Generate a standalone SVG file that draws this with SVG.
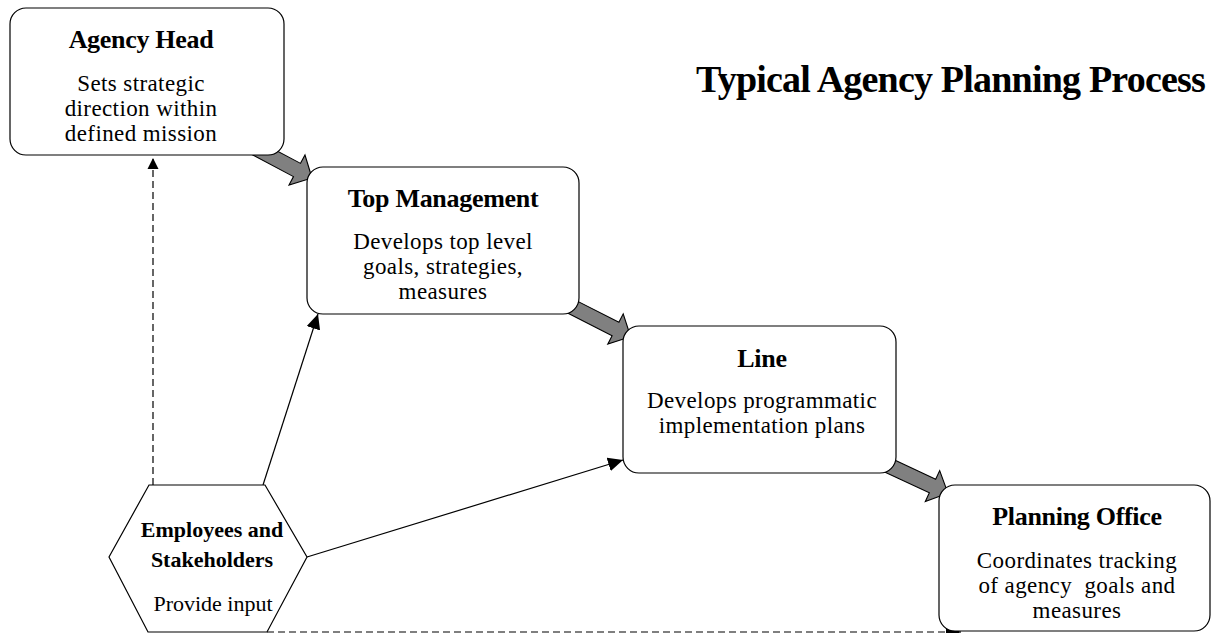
<svg xmlns="http://www.w3.org/2000/svg" width="1212" height="633" viewBox="0 0 1212 633">
<style>
  .box { fill: #ffffff; stroke: #000000; stroke-width: 1.2; }
  .t { font-family: "Liberation Serif", "Times New Roman", serif; fill: #000000; text-anchor: middle; }
  .h { font-weight: bold; font-size: 26px; letter-spacing: -0.3px; }
  .d { font-size: 23px; letter-spacing: 0.4px; }
  .hx { font-weight: bold; font-size: 22px; }
  .hd { font-size: 22px; }
  .flow { fill: #808080; stroke: #000000; stroke-width: 1.1; stroke-linejoin: miter; }
  .solid { fill: none; stroke: #000000; stroke-width: 1.2; }
  .dash { fill: none; stroke: #000000; stroke-width: 1.2; stroke-dasharray: 7 4; }
</style>
<defs>
  <marker id="ah" markerUnits="userSpaceOnUse" markerWidth="16" markerHeight="14" refX="15" refY="7" orient="auto">
    <path d="M0,0 L15,7 L0,14 Z" fill="#000000"/>
  </marker>
  <marker id="ahs" markerUnits="userSpaceOnUse" markerWidth="12" markerHeight="12" refX="11" refY="6" orient="auto">
    <path d="M0,0.5 L11,6 L0,11.5 Z" fill="#000000"/>
  </marker>
  <polygon id="bigarrow" points="-50,-7.5 0,-7.5 0,-17 17,0 0,17 0,7.5 -50,7.5"/>
</defs>

<text class="t" x="1205" y="92" style="text-anchor:end;font-weight:bold;font-size:38px;letter-spacing:-0.8px">Typical Agency Planning Process</text>

<g id="connectors">
  <use href="#bigarrow" class="flow" transform="translate(297,170) rotate(28)"/>
  <use href="#bigarrow" class="flow" transform="translate(615.5,329) rotate(27)"/>
  <use href="#bigarrow" class="flow" transform="translate(932.5,486) rotate(25)"/>
  <line class="dash" x1="153" y1="485" x2="153" y2="158" marker-end="url(#ahs)"/>
  <line class="solid" x1="263" y1="485" x2="318" y2="314" marker-end="url(#ah)"/>
  <line class="solid" x1="307" y1="557" x2="623" y2="460" marker-end="url(#ah)"/>
  <line class="dash" x1="267" y1="632" x2="961" y2="632" marker-end="url(#ah)"/>
</g>

<g id="agency-head">
  <rect class="box" x="10" y="8" width="274" height="147" rx="16" ry="16"/>
  <text class="t h" x="141" y="48">Agency Head</text>
  <text class="t d" x="141" y="91">Sets strategic</text>
  <text class="t d" x="141" y="116">direction within</text>
  <text class="t d" x="141" y="141">defined mission</text>
</g>

<g id="top-management">
  <rect class="box" x="307" y="167" width="272" height="147" rx="16" ry="16"/>
  <text class="t h" x="443" y="207">Top Management</text>
  <text class="t d" x="443" y="249">Develops top level</text>
  <text class="t d" x="443" y="274">goals, strategies,</text>
  <text class="t d" x="443" y="299">measures</text>
</g>

<g id="line">
  <rect class="box" x="623" y="326" width="273" height="147" rx="16" ry="16"/>
  <text class="t h" x="762" y="367">Line</text>
  <text class="t d" x="762" y="408">Develops programmatic</text>
  <text class="t d" x="762" y="433">implementation plans</text>
</g>

<g id="planning-office">
  <rect class="box" x="939" y="485" width="271" height="146" rx="16" ry="16"/>
  <text class="t h" x="1077" y="525">Planning Office</text>
  <text class="t d" x="1077" y="568">Coordinates tracking</text>
  <text class="t d" x="1077" y="593" style="white-space:pre">of agency  goals and</text>
  <text class="t d" x="1077" y="618">measures</text>
</g>

<g id="employees-stakeholders">
  <polygon class="box" points="149,485 265,485 307,557 267,632 148,632 109,557"/>
  <text class="t hx" x="212" y="537">Employees and</text>
  <text class="t hx" x="212" y="567">Stakeholders</text>
  <text class="t hd" x="213" y="611">Provide input</text>
</g>
</svg>
